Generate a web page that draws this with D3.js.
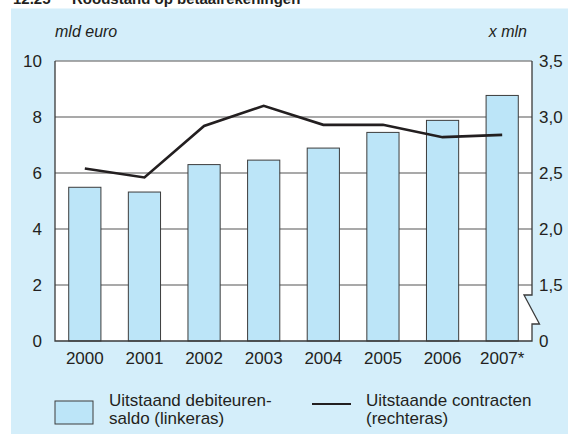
<!DOCTYPE html>
<html>
<head>
<meta charset="utf-8">
<script src="https://cdn.jsdelivr.net/npm/d3@7"></script>
<style>
  html, body { margin: 0; padding: 0; background: #ffffff; }
  svg { display: block; }
  text { font-family: "Liberation Sans", Arial, sans-serif; fill: #231f20; }
</style>
</head>
<body>
<svg id="chart" width="568" height="434"></svg>
<script>
// Roodstand op betaalrekeningen: saldo (bars, left axis) and contracts (line, right axis)
const years = ["2000", "2001", "2002", "2003", "2004", "2005", "2006", "2007*"];
const saldo = [5.49, 5.32, 6.30, 6.46, 6.89, 7.45, 7.88, 8.77];        // mld euro
const contracten = [2.54, 2.46, 2.92, 3.10, 2.93, 2.93, 2.82, 2.84];   // x mln
const leftTicks = [0, 2, 4, 6, 8, 10];
const rightTicks = [1.5, 2.0, 2.5, 3.0, 3.5];
const rightBaseLabel = "0";

const svg = d3.select("#chart");
const W = 568, H = 434;
const plot = { left: 55, right: 532, top: 61, bottom: 341 };

const blue = "#d4eefa";
const barFill = "#bce5f8";
const gridCol = "#8c8c8c";
const axisCol = "#3a3a3a";

// panel background
svg.append("rect").attr("x", 11).attr("y", 8.5).attr("width", W - 11).attr("height", H - 8.5)
  .attr("fill", blue);

// title (partly above the frame)
svg.append("text").attr("x", 13).attr("y", 4)
  .style("font-weight", "bold").style("font-size", "15px")
  .text("12.25");
svg.append("text").attr("x", 72).attr("y", 4)
  .style("font-weight", "bold").style("font-size", "15px")
  .text("Roodstand op betaalrekeningen");

const x = d3.scaleBand().domain(years).range([plot.left, plot.right])
  .paddingInner(0.46).paddingOuter(0.23);
const yL = d3.scaleLinear().domain([0, 10]).range([plot.bottom, plot.top]);
const yR = d3.scaleLinear().domain([1.0, 3.5]).range([plot.bottom, plot.top]);

// white plot area with the axis break notch on the right side
const notchTop = yR(1.5) + 10, notchBot = notchTop + 29;
const plotPath = d3.path();
plotPath.moveTo(plot.left, plot.top);
plotPath.lineTo(plot.right, plot.top);
plotPath.lineTo(plot.right, notchTop);
plotPath.lineTo(plot.right - 8, notchTop);
plotPath.lineTo(plot.right + 7.5, notchBot);
plotPath.lineTo(plot.right, notchBot);
plotPath.lineTo(plot.right, plot.bottom);
plotPath.lineTo(plot.left, plot.bottom);
plotPath.closePath();
svg.append("path").attr("d", plotPath.toString()).attr("fill", "#ffffff");

// horizontal gridlines
svg.append("g").selectAll("line").data(leftTicks.filter(d => d > 0)).join("line")
  .attr("x1", plot.left).attr("x2", plot.right)
  .attr("y1", d => yL(d)).attr("y2", d => yL(d))
  .attr("stroke", gridCol).attr("stroke-width", 1.5);

// bars
svg.append("g").selectAll("rect").data(years).join("rect")
  .attr("x", d => x(d))
  .attr("y", (d, i) => yL(saldo[i]))
  .attr("width", x.bandwidth())
  .attr("height", (d, i) => yL(0) - yL(saldo[i]))
  .attr("fill", barFill).attr("stroke", "#3c3c3c").attr("stroke-width", 1);

// axis frame: left, bottom and broken right axis
const frame = d3.path();
frame.moveTo(plot.left, plot.top);
frame.lineTo(plot.left, plot.bottom);
frame.lineTo(plot.right, plot.bottom);
frame.lineTo(plot.right, notchBot);
frame.lineTo(plot.right + 7.5, notchBot);
frame.lineTo(plot.right - 8, notchTop);
frame.lineTo(plot.right, notchTop);
frame.lineTo(plot.right, plot.top);
svg.append("path").attr("d", frame.toString()).attr("fill", "none")
  .attr("stroke", axisCol).attr("stroke-width", 1.3);

// contracts line
const line = d3.line()
  .x((d, i) => x(years[i]) + x.bandwidth() / 2)
  .y(d => yR(d));
svg.append("path").datum(contracten).attr("d", line)
  .attr("fill", "none").attr("stroke", "#231f20").attr("stroke-width", 2.6)
  .attr("stroke-linejoin", "miter");

// left tick labels
svg.append("g").selectAll("text").data(leftTicks).join("text")
  .attr("x", 42).attr("y", d => yL(d) + 6.3)
  .attr("text-anchor", "end").style("font-size", "17px")
  .text(d => d);

// right tick labels
const fmtR = d => d3.format(".1f")(d).replace(".", ",");
svg.append("g").selectAll("text").data(rightTicks).join("text")
  .attr("x", 539).attr("y", d => yR(d) + 6.3)
  .style("font-size", "17px")
  .text(fmtR);
svg.append("text").attr("x", 539).attr("y", yR(1.0) + 6.3)
  .style("font-size", "17px").text(rightBaseLabel);

// category labels
svg.append("g").selectAll("text").data(years).join("text")
  .attr("x", d => x(d) + x.bandwidth() / 2).attr("y", 364)
  .attr("text-anchor", "middle").style("font-size", "17px")
  .text(d => d);

// unit labels
svg.append("text").attr("x", 55).attr("y", 37)
  .style("font-size", "16px").style("font-style", "italic").text("mld euro");
svg.append("text").attr("x", 527).attr("y", 37).attr("text-anchor", "end")
  .style("font-size", "16px").style("font-style", "italic").text("x mln");

// legend
svg.append("rect").attr("x", 55).attr("y", 401).attr("width", 38).attr("height", 23)
  .attr("fill", barFill).attr("stroke", "#3c3c3c").attr("stroke-width", 1);
const lg1 = svg.append("text").attr("x", 109).attr("y", 406).style("font-size", "17px");
lg1.append("tspan").attr("x", 109).attr("dy", 0).text("Uitstaand debiteuren-");
lg1.append("tspan").attr("x", 109).attr("dy", 18).text("saldo (linkeras)");

svg.append("line").attr("x1", 312).attr("x2", 351).attr("y1", 404).attr("y2", 404)
  .attr("stroke", "#231f20").attr("stroke-width", 2);
const lg2 = svg.append("text").attr("x", 366).attr("y", 406).style("font-size", "17px");
lg2.append("tspan").attr("x", 366).attr("dy", 0).text("Uitstaande contracten");
lg2.append("tspan").attr("x", 366).attr("dy", 18).text("(rechteras)");
</script>
</body>
</html>
